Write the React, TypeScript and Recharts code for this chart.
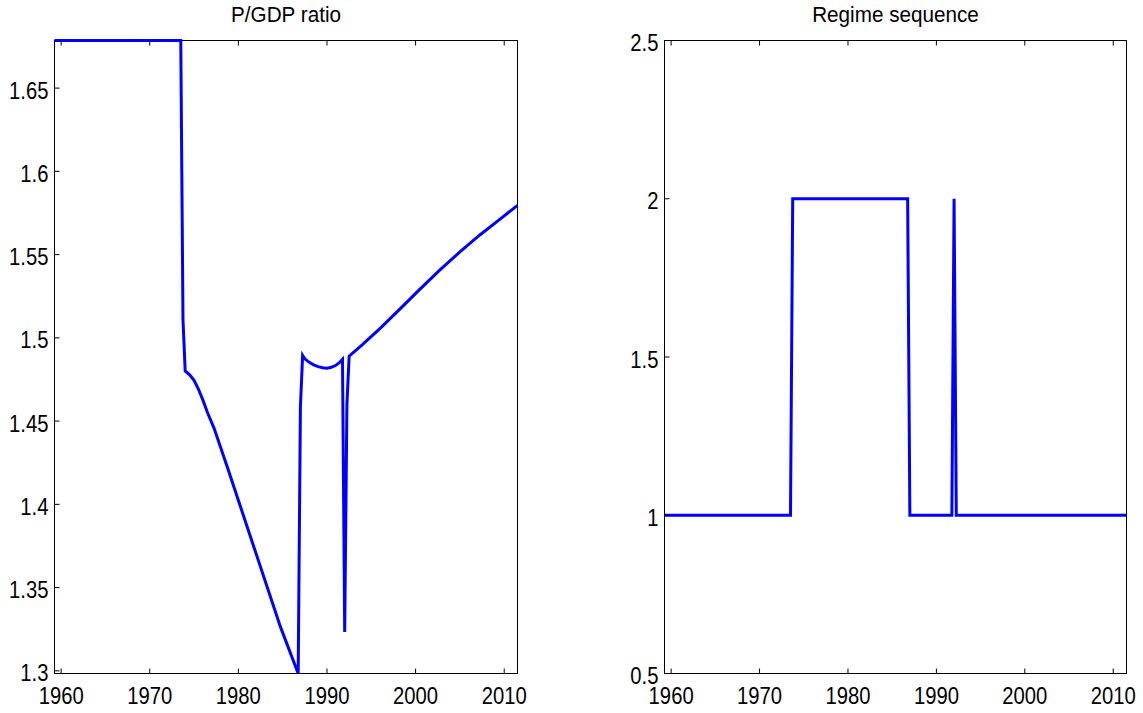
import { LineChart, Line, XAxis, YAxis } from 'recharts';

// time axis (quarterly, shown in years)
const yearTicks = [1960, 1970, 1980, 1990, 2000, 2010];
const yearDomain = [1959.25, 2011.5];

// P/GDP ratio
const pgdpYears = [
  1959.25, 1973.5, 1973.75, 1974.0, 1974.5, 1975.0, 1975.5, 1976.0, 1976.5, 1977.25,
  1978.75, 1980.25, 1981.75, 1983.25, 1984.75, 1986.75, 1987.0, 1987.25, 1987.5, 1988.0,
  1988.5, 1989.0, 1989.5, 1990.0, 1990.5, 1991.0, 1991.5, 1991.75, 1992.0, 1992.25,
  1992.5, 1994.0, 1996.0, 1998.25, 2000.5, 2002.75, 2005.0, 2007.25, 2009.5, 2011.5,
];
const pgdpValues = [
  1.6786, 1.6786, 1.511, 1.4801, 1.4778, 1.4745, 1.4691, 1.4626, 1.4553, 1.4458,
  1.4224, 1.3984, 1.3744, 1.3504, 1.3264, 1.2984, 1.4585, 1.4895, 1.4874, 1.4853,
  1.4838, 1.4827, 1.482, 1.4818, 1.4823, 1.4835, 1.4856, 1.4871, 1.3234, 1.46,
  1.489, 1.4959, 1.5057, 1.5174, 1.5293, 1.5408, 1.5516, 1.5618, 1.5712, 1.5796,
];
const pgdpTicks = [1.3, 1.35, 1.4, 1.45, 1.5, 1.55, 1.6, 1.65];
const pgdpDomain = [1.2984, 1.6786];

// regime sequence, right panel
const regimeYears = [1959.25, 1973.5, 1973.75, 1986.75, 1987.0, 1991.75, 1992.0, 1992.25, 2011.5];
const regimeValues = [1, 1, 2, 2, 1, 1, 2, 1, 1];
const regimeTicks = [0.5, 1, 1.5, 2, 2.5];
const regimeDomain = [0.5, 2.5];

const FONT = '"Liberation Sans", Arial, Helvetica, sans-serif';
const BLUE = '#0000ff';
const H = 713;
const PLOT_TOP = 40.5;
const PLOT_BOTTOM = 673.5;

const BottomTick = (props: any) => {
  const { x, y, payload } = props;
  return (
    <g>
      <line x1={x} y1={y} x2={x} y2={y - 5} stroke="#000" />
      <text
        transform={`translate(${x},${y + 30.5}) scale(0.88,1)`}
        textAnchor="middle"
        fontSize={23}
        fontFamily={FONT}
        fill="#000"
      >
        {String(payload.value)}
      </text>
    </g>
  );
};

const TopTick = (props: any) => (
  <line x1={props.x} y1={props.y} x2={props.x} y2={props.y + 5} stroke="#000" />
);

const LeftTick = (props: any) => {
  const { x, y, payload } = props;
  return (
    <g>
      <line x1={x} y1={y} x2={x + 5} y2={y} stroke="#000" />
      <text
        transform={`translate(${x - 6},${y + 10.5}) scale(0.88,1)`}
        textAnchor="end"
        fontSize={23}
        fontFamily={FONT}
        fill="#000"
      >
        {String(payload.value)}
      </text>
    </g>
  );
};

const RightTick = (props: any) => (
  <line x1={props.x} y1={props.y} x2={props.x - 5} y2={props.y} stroke="#000" />
);

type PanelProps = {
  left: number;
  width: number;
  plotLeft: number;
  plotRight: number;
  title: string;
  years: number[];
  values: number[];
  yDomain: number[];
  yTicks: number[];
};

const Panel = ({ left, width, plotLeft, plotRight, title, years, values, yDomain, yTicks }: PanelProps) => {
  const data = years.map((year, i) => ({ year, value: values[i] }));
  const yAxisW = plotLeft - left;
  const rightMargin = left + width - plotRight - 1;
  const cx = (plotLeft + plotRight) / 2 - left;
  return (
    <div style={{ position: 'absolute', left, top: 0, width, height: H }}>
      {/* axes box sits under the svg so the blue line is drawn over it */}
      <div
        style={{
          position: 'absolute',
          left: plotLeft - 0.5 - left,
          top: PLOT_TOP - 0.5,
          width: plotRight - plotLeft + 1,
          height: PLOT_BOTTOM - PLOT_TOP + 1,
          border: '1px solid #000',
          boxSizing: 'border-box',
        }}
      />
      <div style={{ position: 'absolute', left: 0, top: 0 }}>
        <LineChart
          width={width}
          height={H}
          data={data}
          margin={{ top: PLOT_TOP - 1, right: rightMargin, bottom: 0, left: 0 }}
        >
          <XAxis
            xAxisId="b"
            type="number"
            dataKey="year"
            domain={yearDomain}
            ticks={yearTicks}
            interval={0}
            height={H - PLOT_BOTTOM}
            tickSize={0}
            tickMargin={0}
            tickLine={false}
            axisLine={false}
            tick={BottomTick}
          />
          <XAxis
            xAxisId="t"
            orientation="top"
            type="number"
            dataKey="year"
            domain={yearDomain}
            ticks={yearTicks}
            interval={0}
            height={1}
            tickSize={0}
            tickMargin={0}
            tickLine={false}
            axisLine={false}
            tick={TopTick}
          />
          <YAxis
            yAxisId="l"
            type="number"
            domain={yDomain}
            ticks={yTicks}
            interval={0}
            width={yAxisW}
            tickSize={0}
            tickMargin={0}
            tickLine={false}
            axisLine={false}
            tick={LeftTick}
          />
          <YAxis
            yAxisId="r"
            orientation="right"
            type="number"
            domain={yDomain}
            ticks={yTicks}
            interval={0}
            width={1}
            tickSize={0}
            tickMargin={0}
            tickLine={false}
            axisLine={false}
            tick={RightTick}
          />
          <Line
            xAxisId="b"
            yAxisId="l"
            type="linear"
            dataKey="value"
            stroke={BLUE}
            strokeWidth={3}
            dot={false}
            activeDot={false}
            isAnimationActive={false}
          />
        </LineChart>
      </div>
      <svg style={{ position: 'absolute', left: 0, top: 0, pointerEvents: 'none' }} width={width} height={32}>
        <text
          transform={`translate(${cx},22) scale(0.94,1)`}
          textAnchor="middle"
          fontSize={22}
          fontFamily={FONT}
          fill="#000"
        >
          {title}
        </text>
      </svg>
    </div>
  );
};

export default function App() {
  return (
    <div style={{ position: 'absolute', left: 0, top: 0, width: 1143, height: H, background: '#fff' }}>
      <Panel
        left={0}
        width={572}
        plotLeft={54.5}
        plotRight={517.5}
        title="P/GDP ratio"
        years={pgdpYears}
        values={pgdpValues}
        yDomain={pgdpDomain}
        yTicks={pgdpTicks}
      />
      <Panel
        left={572}
        width={571}
        plotLeft={664.5}
        plotRight={1126.5}
        title="Regime sequence"
        years={regimeYears}
        values={regimeValues}
        yDomain={regimeDomain}
        yTicks={regimeTicks}
      />
    </div>
  );
}
